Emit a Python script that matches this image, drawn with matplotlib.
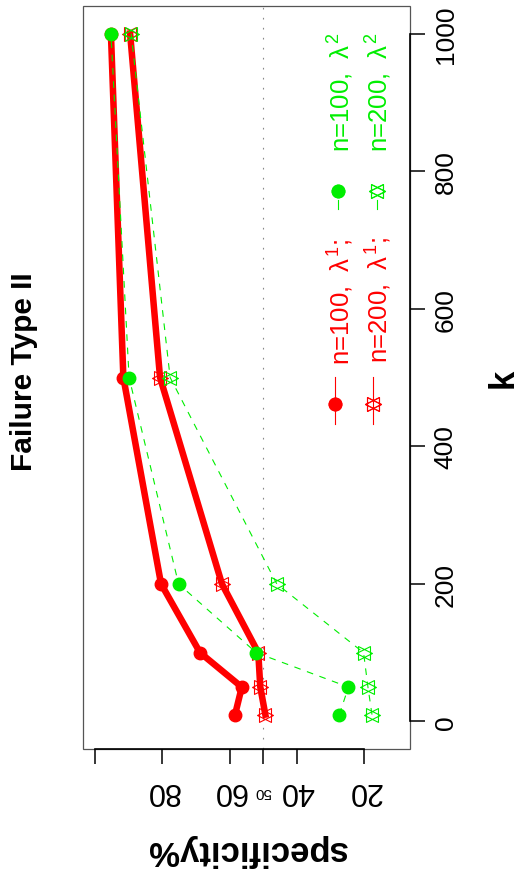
import matplotlib.pyplot as plt
from matplotlib.path import Path
from matplotlib.patches import Rectangle

plt.rcParams['font.family'] = ['Liberation Sans', 'DejaVu Sans']
plt.rcParams['mathtext.fontset'] = 'custom'
plt.rcParams['mathtext.rm'] = 'Liberation Sans'
plt.rcParams['mathtext.it'] = 'Liberation Sans'

# data (k on the vertical axis, specificity% horizontal, chart is drawn turned on its side)
k = [10, 50, 100, 200, 500, 1000]
spec_n100_l1 = [58.4, 56.4, 68.8, 80.4, 91.6, 95.3]
spec_n200_l1 = [49.4, 50.9, 51.5, 62.3, 80.7, 89.6]
spec_n100_l2 = [27.4, 24.7, 52.1, 75.2, 89.9, 95.3]
spec_n200_l2 = [17.7, 18.9, 20.2, 46.0, 77.7, 89.3]

spec_ticks = [100, 80, 60, 50, 40, 20]
spec_labels = ['', '80', '60', '', '40', '20']
k_ticks = [0, 200, 400, 600, 800, 1000]

W, H = 519, 879
RED = '#ff0000'
GREEN = '#00ee00'

def px(x, y):
    return x / W, 1 - y / H

# pch 11 style star (two triangles), turned 90 degrees
a, b, c = 1.555, 1.166, 1.347
star = Path([(a, 0), (-b, c), (-b, -c), (a, 0),
             (-a, 0), (b, c), (b, -c), (-a, 0)],
            [Path.MOVETO, Path.LINETO, Path.LINETO, Path.CLOSEPOLY,
             Path.MOVETO, Path.LINETO, Path.LINETO, Path.CLOSEPOLY])

fig = plt.figure(figsize=(W / 100, H / 100), dpi=100)
ax = fig.add_axes([83 / W, 1 - 750 / H, (410 - 83) / W, (750 - 7) / H])

ax.axvline(50, color='#888888', lw=0.8, dashes=(1.5, 7.5), zorder=1)

ax.plot(spec_n100_l1, k, color=RED, lw=4.7, marker='o', ms=9, zorder=3)
ax.plot(spec_n200_l1, k, color=RED, lw=4.7, marker=star, ms=11.5,
        mfc='none', mew=0.8, zorder=3)
ax.plot(spec_n100_l2, k, color=GREEN, lw=0.8, dashes=(6, 6), marker='o',
        ms=9, zorder=4)
ax.plot(spec_n200_l2, k, color=GREEN, lw=0.8, dashes=(6, 6), marker=star,
        ms=11.5, mfc='none', mew=0.8, zorder=4)

ax.set_xlim(103.6, 6.4)
ax.set_ylim(-40, 1040)

for s in ['left', 'top']:
    ax.spines[s].set_visible(False)
ax.spines['bottom'].set_bounds(20, 100)
ax.spines['right'].set_bounds(0, 1000)
for s in ['bottom', 'right']:
    ax.spines[s].set_linewidth(1.2)
ax.add_patch(Rectangle((0, 0), 1, 1, transform=ax.transAxes, fill=False,
                       ec='#555555', lw=0.9, clip_on=False, zorder=0))

ax.set_xticks(spec_ticks)
ax.set_xticklabels(spec_labels, rotation=180)
ax.tick_params(axis='x', length=11, width=1.1, labelsize=22, pad=8)
# the small 50 label under the reference line
fig.text(*px(263, 792), '50', rotation=180, fontsize=11, ha='center', va='center')

ax.yaxis.tick_right()
ax.set_yticks(k_ticks)
ax.set_yticklabels([str(v) for v in k_ticks], rotation=90, va='center')
ax.tick_params(axis='y', length=11, width=1.1, labelsize=19, pad=6)

fig.text(*px(24, 372), 'Failure Type II', rotation=90, fontsize=21.5,
         fontweight='bold', ha='center', va='center')
fig.text(*px(246, 851), 'specificity%', rotation=180, fontsize=25,
         fontweight='bold', ha='center', va='center')
fig.text(*px(503, 378), 'k', rotation=90, fontsize=25, fontweight='bold',
         ha='center', va='center')

# legend, two rows, drawn by hand because it is turned too
def leg_line(x, y0, y1, **kw):
    (fx, fy0), (_, fy1) = px(x, y0), px(x, y1)
    ax.plot([fx, fx], [fy0, fy1], transform=fig.transFigure, clip_on=False, **kw)

leg_line(335, 378, 425, color=RED, lw=0.8)
leg_line(335, 405, 405, color=RED, marker='o', ms=9)
leg_line(373, 378, 425, color=RED, lw=0.8)
leg_line(373, 405, 405, color=RED, marker=star, ms=11.5, mfc='none', mew=0.8)
leg_line(338, 201, 210, color=GREEN, lw=0.8)
leg_line(338, 192, 192, color=GREEN, marker='o', ms=9)
leg_line(377, 201, 210, color=GREEN, lw=0.8)
leg_line(377, 192, 192, color=GREEN, marker=star, ms=11.5, mfc='none', mew=0.8)

leg_text = [(350, 365, r'n=100,  $\lambda^{1}$;', RED),
            (388, 363, r'n=200,  $\lambda^{1}$;', RED),
            (350, 152, r'n=100,  $\lambda^{2}$', GREEN),
            (388, 152, r'n=200,  $\lambda^{2}$', GREEN)]
for x, y, s, col in leg_text:
    fig.text(*px(x, y), s, rotation=90, rotation_mode='anchor', ha='left',
             va='baseline', fontsize=18.5, color=col)

fig.savefig('out.png', dpi=100)
